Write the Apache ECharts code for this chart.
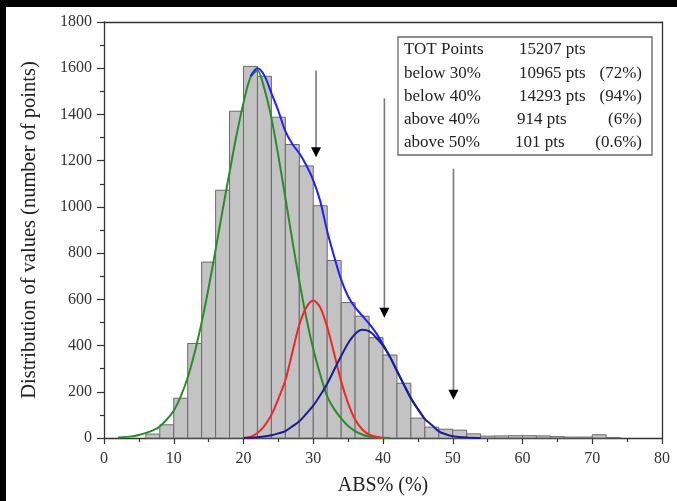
<!DOCTYPE html>
<html><head><meta charset="utf-8">
<script src="https://cdn.jsdelivr.net/npm/echarts@6/dist/echarts.min.js"></script>
<style>html,body{margin:0;padding:0;background:#fff}#c{width:677px;height:501px}</style>
</head><body><div id="c"></div><script>
// Histogram bins (start of each 2%-wide bin) and counts
const binStarts = [6,8,10,12,14,16,18,20,22,24,26,28,30,32,34,36,38,40,42,44,46,48,50,52,54,56,58,60,62,64,66,68,70,72];
const binCounts = [17,57,172,409,761,1072,1414,1608,1565,1388,1270,1177,1005,768,586,527,434,359,237,86,47,38,34,18,8,9,10,10,9,6,4,4,14,2];
const binWidth = 2;

// Fitted curves: [x, y]
const greenCurve = [[2,2],[4,7],[5,13],[6,22],[7,33],[8,50],[9,80],[10,118],[11,180],[12,262],[13,370],[14,500],[15,650],[16,815],[17,985],[18,1150],[19,1310],[20,1450],[21,1560],[22,1590],[23,1510],[24,1385],[25,1220],[26,1040],[27,855],[28,680],[29,520],[30,385],[31,275],[32,180],[33,125],[34,85],[35,52],[36,30],[37,15],[38,6],[39,2],[41,0]];
const redCurve = [[20,0],[21,5],[22,22],[23,52],[24,100],[25,170],[26,250],[27,370],[28,490],[29,565],[30,595],[31,565],[32,480],[33,365],[34,245],[35,150],[36,80],[37,38],[38,15],[39,5],[40,0]];
const navyCurve = [[20,0],[22,3],[24,12],[25,20],[26,30],[27,50],[28,72],[29,105],[30,140],[31,185],[32,235],[33,295],[34,355],[35,410],[36,450],[37,468],[38,462],[39,435],[40,400],[41,350],[42,290],[43,230],[44,172],[45,125],[46,82],[47,56],[48,29],[49,16],[50,8],[52,2],[54,0]];
const blueCurve = [[21,1565],[22,1600],[23,1568],[24,1492],[25,1415],[26,1328],[27,1272],[28,1232],[29,1180],[30,1115],[31,1025],[32,895],[33,785],[34,685],[35,612],[36,565],[37,530],[38,495],[39,455],[40,405],[41,352],[42,291],[43,231],[44,172],[45,125],[46,82]];

// Arrows: x position, top value, tip value
const arrowX = [30.4, 40.2, 50.1];
const arrowTop = [1590, 1470, 1165];
const arrowTip = [1215, 520, 165];

// Text box
const boxLabels = ['TOT Points','below 30%','below 40%','above 40%','above 50%'];
const boxCounts = ['15207 pts','10965 pts','14293 pts','914 pts','101 pts'];
const boxPercents = ['','(72%)','(94%)','(6%)','(0.6%)'];

const xTitle = 'ABS% (%)';
const yTitle = 'Distribution of values (number of points)';

const SERIF = '"Liberation Serif", "DejaVu Serif", serif';
const chart = echarts.init(document.getElementById('c'));

const boxLeft = 398, boxTop = 37, boxW = 254, boxH = 118, rowY0 = 50, rowStep = 23.2;
const boxEls = [{type:'rect', shape:{x:boxLeft, y:boxTop, width:boxW, height:boxH}, style:{fill:'#fff', stroke:'#666', lineWidth:1.3}, z:100}];
boxLabels.forEach((t,i)=>{
  const y = rowY0 + i*rowStep;
  boxEls.push({type:'text', x:404, y:y, style:{text:t, font:'17px '+SERIF, fill:'#222', textVerticalAlign:'middle', textAlign:'left'}, z:101});
  boxEls.push({type:'text', x:(i===3?517:(i===4?515:519)), y:y, style:{text:boxCounts[i], font:'17px '+SERIF, fill:'#222', textVerticalAlign:'middle', textAlign:'left'}, z:101});
  if (boxPercents[i]) boxEls.push({type:'text', x:642, y:y, style:{text:boxPercents[i], font:'17px '+SERIF, fill:'#222', textVerticalAlign:'middle', textAlign:'right'}, z:101});
});

const axisCol = '#333';
function lineSeries(data, color, z){
  return {type:'line', data:data, smooth:0.3, showSymbol:false, symbol:'none', z:z,
    lineStyle:{color:color, width:2}, xAxisIndex:0, yAxisIndex:0, animation:false};
}
const plainNum = v => String(v);

chart.setOption({
  animation:false,
  backgroundColor:'#fff',
  grid:{left:104, right:15, top:22, bottom:61, containLabel:false},
  xAxis:[{
    type:'value', min:0, max:80, interval:10, position:'bottom',
    axisLine:{show:true, onZero:false, lineStyle:{color:axisCol, width:1.3}},
    axisTick:{show:true, inside:false, length:6, lineStyle:{color:axisCol, width:1.2}},
    minorTick:{show:true, splitNumber:2, length:4, lineStyle:{color:axisCol, width:1.2}},
    splitLine:{show:false},
    axisLabel:{fontFamily:SERIF, fontSize:16, color:'#333', margin:13, formatter:plainNum},
    name:xTitle, nameLocation:'middle', nameGap:38,
    nameTextStyle:{fontFamily:SERIF, fontSize:20, color:'#222'}
  },{
    type:'value', min:0, max:80, position:'top',
    axisLine:{show:true, onZero:false, lineStyle:{color:axisCol, width:1.3}},
    axisTick:{show:false}, axisLabel:{show:false}, splitLine:{show:false}
  }],
  yAxis:[{
    type:'value', min:0, max:1800, interval:200, position:'left',
    axisLine:{show:true, onZero:false, lineStyle:{color:axisCol, width:1.3}},
    axisTick:{show:true, inside:false, length:7, lineStyle:{color:axisCol, width:1.2}},
    minorTick:{show:true, splitNumber:2, length:4, lineStyle:{color:axisCol, width:1.2}},
    splitLine:{show:false},
    axisLabel:{fontFamily:SERIF, fontSize:16, color:'#333', margin:12, formatter:plainNum},
    name:yTitle, nameLocation:'middle', nameGap:64, nameRotate:90,
    nameTextStyle:{fontFamily:SERIF, fontSize:20.5, color:'#222'}
  },{
    type:'value', min:0, max:1800, position:'right',
    axisLine:{show:true, onZero:false, lineStyle:{color:axisCol, width:1.3}},
    axisTick:{show:false}, axisLabel:{show:false}, splitLine:{show:false}
  }],
  graphic:[
    {type:'group', children:boxEls},
    {type:'rect', shape:{x:0,y:0,width:677,height:7}, style:{fill:'#000'}, z:200},
    {type:'rect', shape:{x:0,y:0,width:6,height:501}, style:{fill:'#000'}, z:200}
  ],
  series:[
    {
      type:'custom', xAxisIndex:0, yAxisIndex:0, z:2,
      data: binStarts.map((s,i)=>[s, s+binWidth, binCounts[i]]),
      encode:{x:[0,1], y:2},
      renderItem:function(params, api){
        const p0 = api.coord([api.value(0), api.value(2)]);
        const p1 = api.coord([api.value(1), 0]);
        return {type:'rect', shape:{x:p0[0], y:p0[1], width:p1[0]-p0[0], height:p1[1]-p0[1]},
          style:{fill:'#c3c3c3', stroke:'#6a6a6a', lineWidth:1}};
      }
    },
    lineSeries(greenCurve, '#2a8c2a', 3),
    lineSeries(blueCurve, '#1f1fff', 4),
    lineSeries(redCurve, '#f22626', 5),
    lineSeries(navyCurve, '#1c1c96', 6),
    {
      type:'custom', xAxisIndex:0, yAxisIndex:0, z:7,
      data: arrowX.map((x,i)=>[x, arrowTop[i], arrowTip[i]]),
      encode:{x:0, y:[1,2]},
      renderItem:function(params, api){
        const top = api.coord([api.value(0), api.value(1)]);
        const tip = api.coord([api.value(0), api.value(2)]);
        return {type:'group', children:[
          {type:'line', shape:{x1:top[0], y1:top[1], x2:tip[0], y2:tip[1]-8}, style:{stroke:'#7a7a7a', lineWidth:1.6}},
          {type:'polygon', shape:{points:[[tip[0]-5, tip[1]-10],[tip[0]+5, tip[1]-10],[tip[0], tip[1]]]}, style:{fill:'#000'}}
        ]};
      }
    }
  ]
});
</script></body></html>
